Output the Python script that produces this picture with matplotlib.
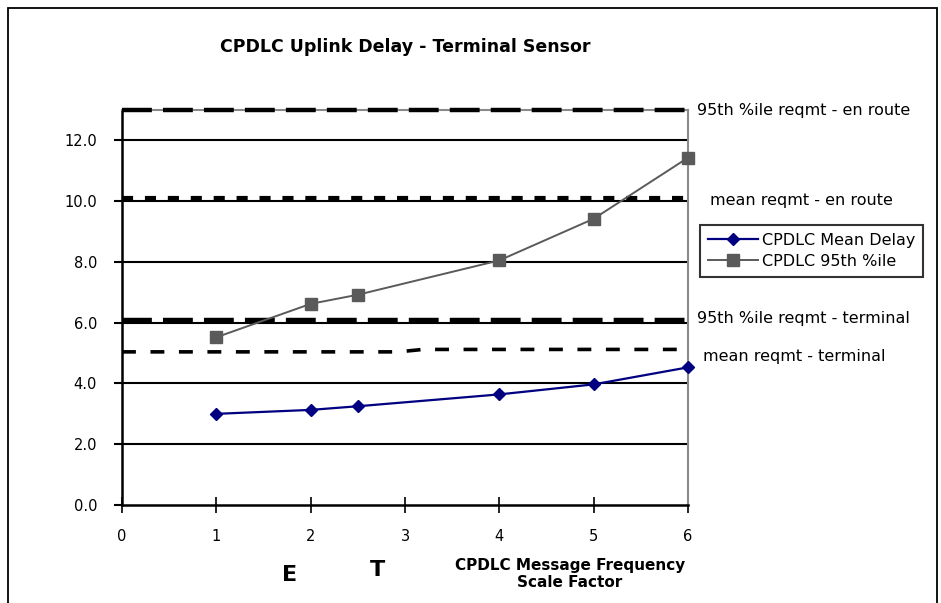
import matplotlib
matplotlib.use("Agg")
import matplotlib.pyplot as plt
from matplotlib.patches import Rectangle

# ---- data ----
scale_factor = [1, 2, 2.5, 4, 5, 6]
mean_delay = [3.00, 3.13, 3.25, 3.64, 3.97, 4.53]
pct95_delay = [5.52, 6.62, 6.92, 8.05, 9.42, 11.43]

req_x = [0, 6]
req95_enroute = [13.0, 13.0]
reqmean_enroute = [10.1, 10.1]
req95_terminal = [6.1, 6.1]
reqmean_terminal_x = [0, 2.93, 3.19, 6]
reqmean_terminal = [5.04, 5.04, 5.12, 5.12]

y_ticks = [0, 2, 4, 6, 8, 10, 12]
x_ticks = [0, 1, 2, 3, 4, 5, 6]

plt.rcParams['font.family'] = ['DejaVu Sans']
plt.rcParams['lines.scale_dashes'] = False

fig = plt.figure(figsize=(9.41, 6.03), dpi=100)
ax = fig.add_axes([122/941, 1-505/603, (688-122)/941, (505-110)/603])

ax.set_xlim(0, 6)
ax.set_ylim(0, 13)

# gridlines
for yv in y_ticks[1:]:
    ax.axhline(yv, color='black', lw=1.5, zorder=1)

# requirement lines
l1, = ax.plot(req_x, req95_enroute, color='black', lw=3.2, clip_on=False, zorder=5)
l1.set_dashes([21.5, 8])
l2, = ax.plot(req_x, reqmean_enroute, color='black', lw=3.0, zorder=4)
l2.set_dashes([8, 8.5])
l3, = ax.plot(req_x, req95_terminal, color='black', lw=3.2, zorder=4)
l3.set_dashes([21.5, 8])
l4, = ax.plot(reqmean_terminal_x, reqmean_terminal, color='black', lw=2.6, zorder=4)
l4.set_dashes([10, 10.5])

# series
ax.plot(scale_factor, mean_delay, color='#000080', lw=1.6, marker='D', markersize=6,
        markerfacecolor='#000080', markeredgecolor='#000080', label='CPDLC Mean Delay',
        clip_on=False, zorder=6)
ax.plot(scale_factor, pct95_delay, color='#5a5a5a', lw=1.4, marker='s', markersize=8,
        markerfacecolor='#5a5a5a', markeredgecolor='#5a5a5a', label='CPDLC 95th %ile',
        clip_on=False, zorder=6)

# spines
for s in ['top', 'right']:
    ax.spines[s].set_color('#8a8a8a')
    ax.spines[s].set_linewidth(1.5)
for s in ['left', 'bottom']:
    ax.spines[s].set_color('black')
    ax.spines[s].set_linewidth(1.8)

ax.set_yticks(y_ticks)
ax.set_yticklabels([f"{v:.1f}" for v in y_ticks])
ax.set_xticks(x_ticks)
ax.set_xticklabels([str(v) for v in x_ticks])
ax.tick_params(axis='y', direction='out', length=6, width=1.5, labelsize=10.5, pad=12)
ax.tick_params(axis='x', direction='inout', length=11, width=1.2, labelsize=10.5, pad=12)

# right labels
lab_kw = dict(transform=fig.transFigure, fontsize=11.5, va='center', ha='left')
fig.text(697/941, 1-110/603, '95th %ile reqmt - en route', **lab_kw)
fig.text(710/941, 1-200/603, 'mean reqmt - en route', **lab_kw)
fig.text(697/941, 1-319/603, '95th %ile reqmt - terminal', **lab_kw)
fig.text(703/941, 1-356/603, 'mean reqmt - terminal', **lab_kw)

# legend
leg = ax.legend(loc='lower left', bbox_to_anchor=(700/941, 1-277/603, 223/941, 55/603),
                bbox_transform=fig.transFigure, mode='expand', fontsize=11.5, frameon=True,
                fancybox=False, borderpad=0.5, handlelength=3.1, handletextpad=0.3,
                labelspacing=0.38, borderaxespad=0)
leg.get_frame().set_edgecolor('black')
leg.get_frame().set_linewidth(1.5)

# title and annotations
fig.text(405/941, 1-47/603, 'CPDLC Uplink Delay - Terminal Sensor', fontsize=12.5,
         fontweight='bold', ha='center', va='center')
fig.text(290/941, 1-575/603, 'E', fontsize=16, fontweight='bold', ha='center', va='center')
fig.text(377/941, 1-570/603, 'T', fontsize=16, fontweight='bold', ha='center', va='center')
fig.text(570/941, 1-574/603, 'CPDLC Message Frequency\nScale Factor', fontsize=11,
         fontweight='bold', ha='center', va='center', linespacing=1.2)

# outer border
fig.patches.append(Rectangle((8/941, -0.05), (937-8)/941, 1.05 - 8/603, transform=fig.transFigure,
                             fill=False, edgecolor='black', lw=1.3))

fig.savefig('out.png', dpi=100)
